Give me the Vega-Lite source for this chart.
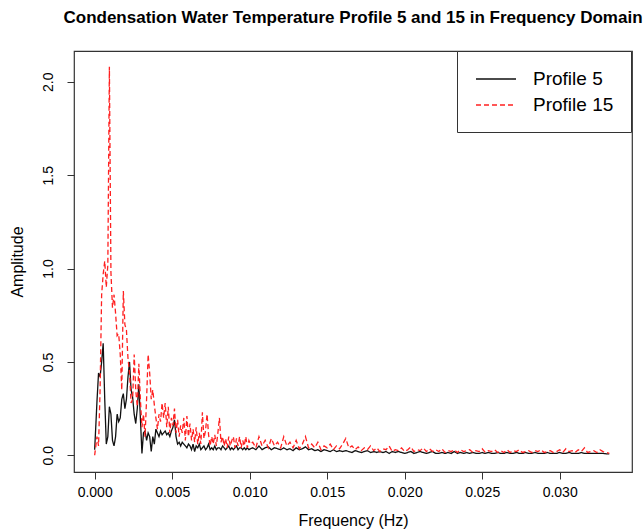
{
  "$schema": "https://vega.github.io/schema/vega-lite/v6.json",
  "width": 558,
  "height": 421,
  "autosize": {"type": "none"},
  "padding": {"left": 74, "top": 51, "right": 12, "bottom": 58},
  "background": "white",
  "title": {
    "text": "Condensation Water Temperature Profile 5 and 15 in Frequency Domain",
    "anchor": "middle",
    "font": "Liberation Sans",
    "fontSize": 17,
    "fontWeight": "bold",
    "color": "black",
    "offset": 24
  },
  "data": {
    "values": [
      {"f": 0, "p5": 0.03, "p15": 0.0},
      {"f": 0.00015, "p5": 0.29, "p15": 0.1},
      {"f": 0.00025, "p5": 0.44, "p15": 0.05},
      {"f": 0.00035, "p5": 0.42, "p15": 0.35},
      {"f": 0.00045, "p5": 0.5, "p15": 0.86},
      {"f": 0.00055, "p5": 0.6, "p15": 0.97},
      {"f": 0.00065, "p5": 0.3, "p15": 1.04},
      {"f": 0.00075, "p5": 0.06, "p15": 0.9},
      {"f": 0.00085, "p5": 0.1, "p15": 1.02},
      {"f": 0.00095, "p5": 0.26, "p15": 2.08},
      {"f": 0.00105, "p5": 0.22, "p15": 0.98},
      {"f": 0.00115, "p5": 0.08, "p15": 0.79},
      {"f": 0.00125, "p5": 0.05, "p15": 0.86},
      {"f": 0.00135, "p5": 0.1, "p15": 0.76},
      {"f": 0.00145, "p5": 0.22, "p15": 0.64},
      {"f": 0.00155, "p5": 0.18, "p15": 0.65},
      {"f": 0.00165, "p5": 0.2, "p15": 0.54},
      {"f": 0.00175, "p5": 0.3, "p15": 0.35},
      {"f": 0.00185, "p5": 0.33, "p15": 0.88},
      {"f": 0.00195, "p5": 0.25, "p15": 0.7},
      {"f": 0.00205, "p5": 0.3, "p15": 0.67},
      {"f": 0.00215, "p5": 0.42, "p15": 0.52},
      {"f": 0.00225, "p5": 0.5, "p15": 0.44},
      {"f": 0.00235, "p5": 0.35, "p15": 0.28},
      {"f": 0.00245, "p5": 0.31, "p15": 0.3},
      {"f": 0.00255, "p5": 0.22, "p15": 0.54},
      {"f": 0.00265, "p5": 0.17, "p15": 0.35},
      {"f": 0.00275, "p5": 0.25, "p15": 0.26},
      {"f": 0.00285, "p5": 0.38, "p15": 0.49},
      {"f": 0.00295, "p5": 0.2, "p15": 0.3},
      {"f": 0.00305, "p5": 0.01, "p15": 0.15},
      {"f": 0.00315, "p5": 0.12, "p15": 0.22},
      {"f": 0.00325, "p5": 0.13, "p15": 0.1},
      {"f": 0.00335, "p5": 0.08, "p15": 0.3},
      {"f": 0.00345, "p5": 0.12, "p15": 0.54},
      {"f": 0.00355, "p5": 0.1, "p15": 0.44},
      {"f": 0.00365, "p5": 0.02, "p15": 0.3},
      {"f": 0.00375, "p5": 0.1, "p15": 0.35},
      {"f": 0.00385, "p5": 0.06, "p15": 0.27},
      {"f": 0.00395, "p5": 0.14, "p15": 0.2},
      {"f": 0.00405, "p5": 0.12, "p15": 0.14},
      {"f": 0.00415, "p5": 0.1, "p15": 0.22},
      {"f": 0.00425, "p5": 0.13, "p15": 0.18},
      {"f": 0.00435, "p5": 0.11, "p15": 0.28},
      {"f": 0.00445, "p5": 0.12, "p15": 0.2},
      {"f": 0.00455, "p5": 0.13, "p15": 0.28},
      {"f": 0.00465, "p5": 0.11, "p15": 0.15},
      {"f": 0.00475, "p5": 0.12, "p15": 0.26},
      {"f": 0.00485, "p5": 0.1, "p15": 0.12},
      {"f": 0.00495, "p5": 0.13, "p15": 0.2},
      {"f": 0.00505, "p5": 0.15, "p15": 0.16},
      {"f": 0.00515, "p5": 0.19, "p15": 0.25},
      {"f": 0.00525, "p5": 0.1, "p15": 0.12},
      {"f": 0.00535, "p5": 0.06, "p15": 0.19},
      {"f": 0.00545, "p5": 0.07, "p15": 0.1},
      {"f": 0.00555, "p5": 0.05, "p15": 0.16},
      {"f": 0.00565, "p5": 0.07, "p15": 0.12},
      {"f": 0.00575, "p5": 0.06, "p15": 0.2},
      {"f": 0.00585, "p5": 0.05, "p15": 0.08},
      {"f": 0.00595, "p5": 0.04, "p15": 0.21},
      {"f": 0.00605, "p5": 0.06, "p15": 0.1},
      {"f": 0.00615, "p5": 0.05, "p15": 0.17},
      {"f": 0.00625, "p5": 0.03, "p15": 0.08},
      {"f": 0.00635, "p5": 0.06, "p15": 0.14},
      {"f": 0.00645, "p5": 0.02, "p15": 0.07},
      {"f": 0.00655, "p5": 0.05, "p15": 0.15},
      {"f": 0.00665, "p5": 0.04, "p15": 0.06},
      {"f": 0.00675, "p5": 0.06, "p15": 0.12},
      {"f": 0.00685, "p5": 0.03, "p15": 0.06},
      {"f": 0.00695, "p5": 0.04, "p15": 0.23},
      {"f": 0.00705, "p5": 0.05, "p15": 0.09},
      {"f": 0.00715, "p5": 0.03, "p15": 0.13},
      {"f": 0.00725, "p5": 0.04, "p15": 0.22},
      {"f": 0.00735, "p5": 0.06, "p15": 0.11},
      {"f": 0.00745, "p5": 0.03, "p15": 0.05},
      {"f": 0.00755, "p5": 0.04, "p15": 0.1},
      {"f": 0.00765, "p5": 0.03, "p15": 0.06},
      {"f": 0.00775, "p5": 0.05, "p15": 0.11},
      {"f": 0.00785, "p5": 0.03, "p15": 0.05},
      {"f": 0.00795, "p5": 0.04, "p15": 0.12},
      {"f": 0.00805, "p5": 0.04, "p15": 0.2},
      {"f": 0.00815, "p5": 0.03, "p15": 0.07},
      {"f": 0.00825, "p5": 0.05, "p15": 0.1},
      {"f": 0.00835, "p5": 0.04, "p15": 0.05},
      {"f": 0.00845, "p5": 0.03, "p15": 0.09},
      {"f": 0.00855, "p5": 0.04, "p15": 0.04},
      {"f": 0.00865, "p5": 0.05, "p15": 0.1},
      {"f": 0.00875, "p5": 0.03, "p15": 0.05},
      {"f": 0.00885, "p5": 0.04, "p15": 0.08},
      {"f": 0.00895, "p5": 0.03, "p15": 0.1},
      {"f": 0.00905, "p5": 0.04, "p15": 0.04},
      {"f": 0.00915, "p5": 0.05, "p15": 0.09},
      {"f": 0.00925, "p5": 0.03, "p15": 0.05},
      {"f": 0.00935, "p5": 0.04, "p15": 0.1},
      {"f": 0.00945, "p5": 0.04, "p15": 0.04},
      {"f": 0.00955, "p5": 0.03, "p15": 0.08},
      {"f": 0.00965, "p5": 0.04, "p15": 0.05},
      {"f": 0.00975, "p5": 0.03, "p15": 0.1},
      {"f": 0.00985, "p5": 0.04, "p15": 0.04},
      {"f": 0.00995, "p5": 0.03, "p15": 0.08},
      {"f": 0.01005, "p5": 0.035, "p15": 0.06},
      {"f": 0.0102, "p5": 0.04, "p15": 0.07},
      {"f": 0.0104, "p5": 0.03, "p15": 0.04},
      {"f": 0.0106, "p5": 0.05, "p15": 0.1},
      {"f": 0.0108, "p5": 0.03, "p15": 0.05},
      {"f": 0.011, "p5": 0.04, "p15": 0.08},
      {"f": 0.0112, "p5": 0.045, "p15": 0.04},
      {"f": 0.0114, "p5": 0.03, "p15": 0.09},
      {"f": 0.0116, "p5": 0.04, "p15": 0.05},
      {"f": 0.0118, "p5": 0.035, "p15": 0.07},
      {"f": 0.012, "p5": 0.03, "p15": 0.04},
      {"f": 0.0122, "p5": 0.04, "p15": 0.1},
      {"f": 0.0124, "p5": 0.03, "p15": 0.05},
      {"f": 0.0126, "p5": 0.035, "p15": 0.07},
      {"f": 0.0128, "p5": 0.025, "p15": 0.04},
      {"f": 0.013, "p5": 0.04, "p15": 0.08},
      {"f": 0.0132, "p5": 0.03, "p15": 0.035},
      {"f": 0.0134, "p5": 0.035, "p15": 0.06},
      {"f": 0.0136, "p5": 0.045, "p15": 0.1},
      {"f": 0.0138, "p5": 0.03, "p15": 0.04},
      {"f": 0.014, "p5": 0.035, "p15": 0.06},
      {"f": 0.0142, "p5": 0.025, "p15": 0.04},
      {"f": 0.0144, "p5": 0.03, "p15": 0.07},
      {"f": 0.0146, "p5": 0.02, "p15": 0.03},
      {"f": 0.0148, "p5": 0.03, "p15": 0.05},
      {"f": 0.015, "p5": 0.025, "p15": 0.04},
      {"f": 0.0152, "p5": 0.02, "p15": 0.06},
      {"f": 0.0154, "p5": 0.03, "p15": 0.03},
      {"f": 0.0156, "p5": 0.02, "p15": 0.05},
      {"f": 0.0158, "p5": 0.025, "p15": 0.035},
      {"f": 0.016, "p5": 0.02, "p15": 0.06},
      {"f": 0.0162, "p5": 0.025, "p15": 0.09},
      {"f": 0.0164, "p5": 0.02, "p15": 0.04},
      {"f": 0.0166, "p5": 0.015, "p15": 0.05},
      {"f": 0.0168, "p5": 0.025, "p15": 0.03},
      {"f": 0.017, "p5": 0.02, "p15": 0.045},
      {"f": 0.0172, "p5": 0.015, "p15": 0.025},
      {"f": 0.0174, "p5": 0.02, "p15": 0.04},
      {"f": 0.0176, "p5": 0.025, "p15": 0.03},
      {"f": 0.0178, "p5": 0.015, "p15": 0.05},
      {"f": 0.018, "p5": 0.02, "p15": 0.025},
      {"f": 0.0182, "p5": 0.015, "p15": 0.04},
      {"f": 0.0184, "p5": 0.02, "p15": 0.02},
      {"f": 0.0186, "p5": 0.015, "p15": 0.035},
      {"f": 0.0188, "p5": 0.02, "p15": 0.03},
      {"f": 0.019, "p5": 0.01, "p15": 0.05},
      {"f": 0.0192, "p5": 0.02, "p15": 0.02},
      {"f": 0.0194, "p5": 0.015, "p15": 0.03},
      {"f": 0.0196, "p5": 0.02, "p15": 0.025},
      {"f": 0.0198, "p5": 0.015, "p15": 0.04},
      {"f": 0.02, "p5": 0.01, "p15": 0.02},
      {"f": 0.0202, "p5": 0.015, "p15": 0.03},
      {"f": 0.0204, "p5": 0.02, "p15": 0.045},
      {"f": 0.0206, "p5": 0.01, "p15": 0.02},
      {"f": 0.0208, "p5": 0.015, "p15": 0.03},
      {"f": 0.021, "p5": 0.02, "p15": 0.025},
      {"f": 0.0212, "p5": 0.015, "p15": 0.04},
      {"f": 0.0214, "p5": 0.01, "p15": 0.02},
      {"f": 0.0216, "p5": 0.015, "p15": 0.035},
      {"f": 0.0218, "p5": 0.02, "p15": 0.02},
      {"f": 0.022, "p5": 0.01, "p15": 0.03},
      {"f": 0.0222, "p5": 0.01, "p15": 0.02},
      {"f": 0.0224, "p5": 0.015, "p15": 0.035},
      {"f": 0.0226, "p5": 0.01, "p15": 0.015},
      {"f": 0.0228, "p5": 0.015, "p15": 0.025},
      {"f": 0.023, "p5": 0.01, "p15": 0.02},
      {"f": 0.0232, "p5": 0.02, "p15": 0.03},
      {"f": 0.0234, "p5": 0.01, "p15": 0.015},
      {"f": 0.0236, "p5": 0.015, "p15": 0.03},
      {"f": 0.0238, "p5": 0.01, "p15": 0.02},
      {"f": 0.024, "p5": 0.015, "p15": 0.025},
      {"f": 0.0242, "p5": 0.01, "p15": 0.03},
      {"f": 0.0244, "p5": 0.015, "p15": 0.015},
      {"f": 0.0246, "p5": 0.01, "p15": 0.025},
      {"f": 0.0248, "p5": 0.01, "p15": 0.02},
      {"f": 0.025, "p5": 0.015, "p15": 0.035},
      {"f": 0.0252, "p5": 0.01, "p15": 0.015},
      {"f": 0.0254, "p5": 0.015, "p15": 0.025},
      {"f": 0.0256, "p5": 0.01, "p15": 0.02},
      {"f": 0.0258, "p5": 0.01, "p15": 0.03},
      {"f": 0.026, "p5": 0.015, "p15": 0.015},
      {"f": 0.0262, "p5": 0.01, "p15": 0.025},
      {"f": 0.0264, "p5": 0.01, "p15": 0.015},
      {"f": 0.0266, "p5": 0.015, "p15": 0.03},
      {"f": 0.0268, "p5": 0.01, "p15": 0.015},
      {"f": 0.027, "p5": 0.01, "p15": 0.025},
      {"f": 0.0272, "p5": 0.015, "p15": 0.02},
      {"f": 0.0274, "p5": 0.01, "p15": 0.03},
      {"f": 0.0276, "p5": 0.01, "p15": 0.015},
      {"f": 0.0278, "p5": 0.015, "p15": 0.02},
      {"f": 0.028, "p5": 0.01, "p15": 0.025},
      {"f": 0.0282, "p5": 0.01, "p15": 0.015},
      {"f": 0.0284, "p5": 0.015, "p15": 0.025},
      {"f": 0.0286, "p5": 0.01, "p15": 0.02},
      {"f": 0.0288, "p5": 0.01, "p15": 0.03},
      {"f": 0.029, "p5": 0.01, "p15": 0.015},
      {"f": 0.0292, "p5": 0.015, "p15": 0.02},
      {"f": 0.0294, "p5": 0.01, "p15": 0.025},
      {"f": 0.0296, "p5": 0.01, "p15": 0.015},
      {"f": 0.0298, "p5": 0.01, "p15": 0.02},
      {"f": 0.03, "p5": 0.015, "p15": 0.03},
      {"f": 0.0302, "p5": 0.01, "p15": 0.015},
      {"f": 0.0304, "p5": 0.01, "p15": 0.035},
      {"f": 0.0306, "p5": 0.015, "p15": 0.02},
      {"f": 0.0308, "p5": 0.01, "p15": 0.025},
      {"f": 0.031, "p5": 0.01, "p15": 0.015},
      {"f": 0.0312, "p5": 0.01, "p15": 0.03},
      {"f": 0.0314, "p5": 0.015, "p15": 0.02},
      {"f": 0.0316, "p5": 0.01, "p15": 0.04},
      {"f": 0.0318, "p5": 0.01, "p15": 0.015},
      {"f": 0.032, "p5": 0.01, "p15": 0.02},
      {"f": 0.0322, "p5": 0.01, "p15": 0.025},
      {"f": 0.0324, "p5": 0.01, "p15": 0.015},
      {"f": 0.0326, "p5": 0.01, "p15": 0.03},
      {"f": 0.0328, "p5": 0.01, "p15": 0.02},
      {"f": 0.033, "p5": 0.008, "p15": 0.015},
      {"f": 0.0332, "p5": 0.008, "p15": 0.01}
    ]
  },
  "transform": [{"fold": ["p5", "p15"], "as": ["series", "amp"]}],
  "mark": {"type": "line", "strokeWidth": 1.3, "clip": true},
  "encoding": {
    "x": {
      "field": "f",
      "type": "quantitative",
      "scale": {"domain": [-0.001333, 0.034667], "nice": false, "zero": false},
      "axis": {
        "title": "Frequency (Hz)",
        "values": [0, 0.005, 0.01, 0.015, 0.02, 0.025, 0.03],
        "format": ".3f",
        "labelPadding": 6,
        "titlePadding": 13
      }
    },
    "y": {
      "field": "amp",
      "type": "quantitative",
      "scale": {"domain": [-0.0895, 2.165], "nice": false, "zero": false},
      "axis": {
        "title": "Amplitude",
        "values": [0, 0.5, 1, 1.5, 2],
        "format": ".1f",
        "labelAngle": -90,
        "labelAlign": "center",
        "labelBaseline": "bottom",
        "labelPadding": 12,
        "titlePadding": 16
      }
    },
    "color": {
      "field": "series",
      "type": "nominal",
      "scale": {"domain": ["p5", "p15"], "range": ["#111111", "#ff2020"]},
      "legend": {
        "title": null,
        "orient": "none",
        "legendX": 383,
        "legendY": 0,
        "direction": "vertical",
        "strokeColor": "#333333",
        "fillColor": "white",
        "padding": 17,
        "symbolType": "M-2,0H2",
        "symbolSize": 400,
        "symbolOffset": 11,
        "symbolStrokeWidth": 1.4,
        "labelFont": "Liberation Sans",
        "labelFontSize": 19,
        "labelColor": "black",
        "labelOffset": 26,
        "rowPadding": 5,
        "labelExpr": "datum.label == 'p5' ? 'Profile 5' : 'Profile 15'"
      }
    },
    "strokeDash": {
      "field": "series",
      "type": "nominal",
      "scale": {"domain": ["p5", "p15"], "range": [[1, 0], [5, 3]]},
      "legend": {
        "title": null,
        "orient": "none",
        "legendX": 383,
        "legendY": 0,
        "direction": "vertical",
        "strokeColor": "#333333",
        "fillColor": "white",
        "padding": 17,
        "symbolType": "M-2,0H2",
        "symbolSize": 400,
        "symbolOffset": 11,
        "symbolStrokeWidth": 1.4,
        "labelFont": "Liberation Sans",
        "labelFontSize": 19,
        "labelColor": "black",
        "labelOffset": 26,
        "rowPadding": 5,
        "labelExpr": "datum.label == 'p5' ? 'Profile 5' : 'Profile 15'"
      }
    }
  },
  "config": {
    "view": {"stroke": "#333333", "strokeWidth": 1.2},
    "axis": {
      "domain": false,
      "grid": false,
      "tickColor": "#333333",
      "tickSize": 7,
      "labelFont": "Liberation Sans",
      "labelFontSize": 14,
      "labelColor": "black",
      "titleFont": "Liberation Sans",
      "titleFontSize": 16,
      "titleFontWeight": "normal",
      "titleColor": "black"
    }
  }
}
